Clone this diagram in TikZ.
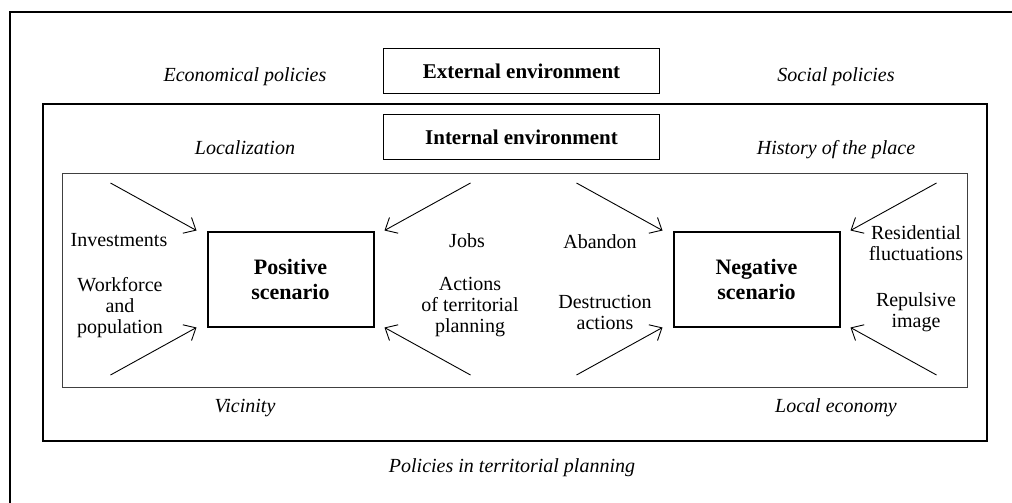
\documentclass[tikz,border=0pt]{standalone}
\usepackage{fontspec}
\setmainfont{Liberation Serif}
\usetikzlibrary{arrows.meta}

\begin{document}
\begin{tikzpicture}[x=0.5pt,y=-0.5pt,
	env/.style={draw, line width=0.75pt, minimum width=138pt, minimum height=22.5pt, font=\fontsize{10.5}{12.5}\selectfont\bfseries},
	scen/.style={draw, line width=1pt, minimum width=83pt, minimum height=47.5pt, align=center, font=\fontsize{11}{12.5}\selectfont\bfseries},
	factor/.style={align=center, font=\fontsize{10}{10.5}\selectfont},
	context/.style={anchor=base, font=\fontsize{10}{12}\selectfont\itshape},
	push/.style={-{Straight Barb[length=5pt,width=9pt]}, line width=0.45pt}]
	\useasboundingbox (0,0) rectangle (1012,503);
	% frames
	\draw[line width=1pt] (1012,12) -- (10,12) -- (10,503);
	\draw[line width=1pt] (43,104) rectangle (987,441);
	\draw[line width=0.5pt, black!75] (62,173) rectangle (967,387);

	\node[env] (ext) at (521.5,71) {External environment};
	\node[env] (int) at (521.5,137) {Internal environment};
	\node[scen] (pos) at (290.5,279) {Positive\\scenario};
	\node[scen] (neg) at (756.5,279) {Negative\\scenario};

	\node[context] (econ) at (245,81) {Economical policies};
	\node[context] (social) at (836,81) {Social policies};
	\node[context] (loc) at (245,154) {Localization};
	\node[context] (hist) at (836,154) {History of the place};
	\node[context] (vic) at (245,412) {Vicinity};
	\node[context] (leco) at (836,412) {Local economy};
	\node[context] (terr) at (512,472) {Policies in territorial planning};

	\node[factor] (inv) at (119,240) {Investments};
	\node[factor] (work) at (120,308) {Workforce\\and\\population};
	\node[factor] (jobs) at (467,241) {Jobs};
	\node[factor] (act) at (470,307) {Actions\\of territorial\\planning};
	\node[factor] (aban) at (600,242) {Abandon};
	\node[factor] (destr) at (605,312) {Destruction\\actions};
	\node[factor] (resid) at (916,243) {Residential\\fluctuations};
	\node[factor] (repul) at (916,312) {Repulsive\\image};

	% arrows into each scenario
	\foreach \sc/\cx in {pos/290.5, neg/756.5}{
		\coordinate (\sc nw) at (\cx-180,183);
		\coordinate (\sc ne) at (\cx+180,183);
		\coordinate (\sc sw) at (\cx-180,375);
		\coordinate (\sc se) at (\cx+180,375);
		\draw[push] (\sc nw) -- ([xshift=-5pt]\sc.north west);
		\draw[push] (\sc ne) -- ([xshift=5pt]\sc.north east);
		\draw[push] (\sc sw) -- ([xshift=-5pt]\sc.south west);
		\draw[push] (\sc se) -- ([xshift=5pt]\sc.south east);
	}
\end{tikzpicture}
\end{document}
